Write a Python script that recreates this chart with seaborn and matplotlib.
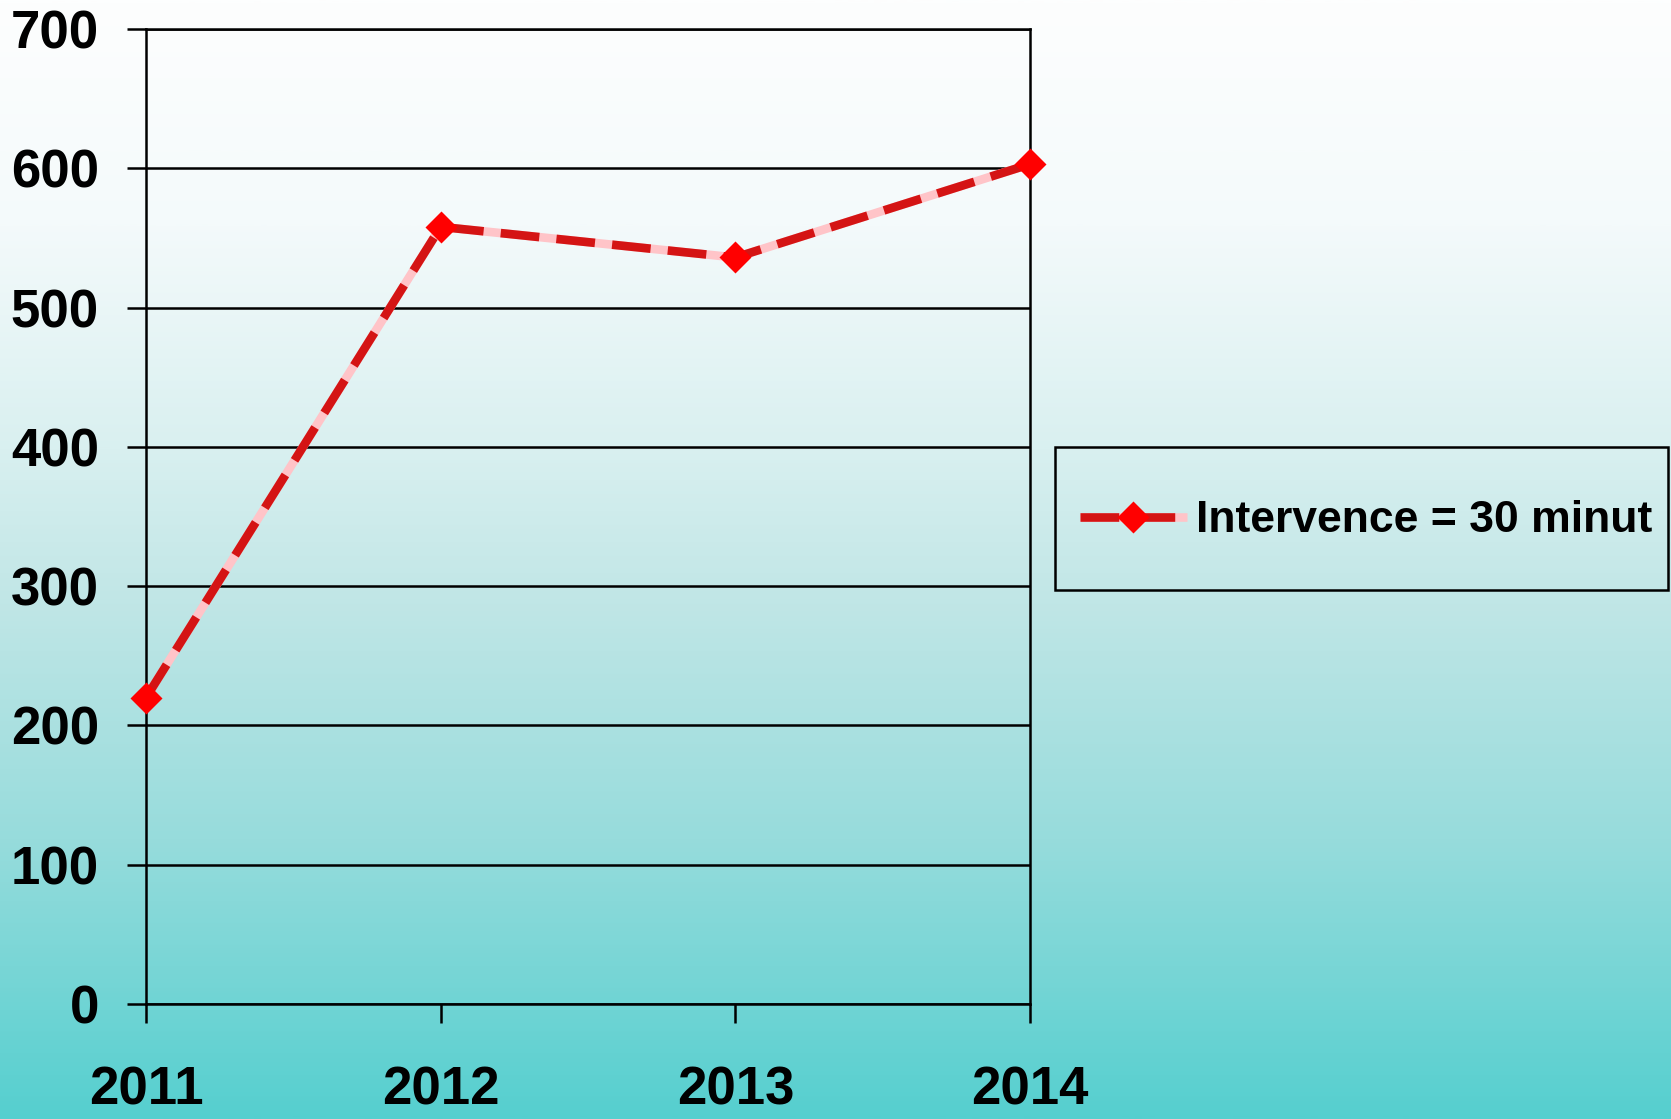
import matplotlib
matplotlib.use('Agg')
import matplotlib.pyplot as plt
import numpy as np
import pandas as pd
import seaborn as sns
from matplotlib.colors import LinearSegmentedColormap
from matplotlib.lines import Line2D
from matplotlib.patches import Rectangle

# Data
years = [2011, 2012, 2013, 2014]
values = [220, 558, 536, 603]
series_label = 'Intervence = 30 minut'
y_ticks = [0, 100, 200, 300, 400, 500, 600, 700]

df = pd.DataFrame({'year': years, 'value': values})

sns.set_theme(style='white')
plt.rcParams['font.family'] = ['Liberation Sans', 'DejaVu Sans']
plt.rcParams['font.weight'] = 'bold'

W, H = 1671, 1119
fig = plt.figure(figsize=(W / 100, H / 100), dpi=100)

# Gradient background (white at top -> teal at bottom)
bg = fig.add_axes([0, 0, 1, 1], zorder=-10)
grad_cmap = LinearSegmentedColormap.from_list(
    'bg', [(0.0, '#fdfefe'), (0.2, '#f4fafb'), (0.4, '#d9f0f0'),
           (0.54, '#c0e6e6'), (0.75, '#97dcdc'), (1.0, '#55cfcf')])
bg.imshow(np.linspace(0, 1, 512).reshape(-1, 1), aspect='auto', cmap=grad_cmap,
          extent=[0, 1, 0, 1], origin='upper')
bg.axis('off')

ax = fig.add_axes([0.0874, 0.1028, 0.5290, 0.8712])
ax.patch.set_alpha(0)

LW = 6.2
DASH = [4.5, 2.0]
# pink base line + dark red dashed overlay with diamond markers
sns.lineplot(data=df, x='year', y='value', ax=ax, color='#ffc4c8', lw=LW, zorder=3)
sns.lineplot(data=df, x='year', y='value', ax=ax, color='#d41414', lw=LW,
             marker='D', markersize=16, markerfacecolor='#ff0000',
             markeredgecolor='none', zorder=4)
ax.lines[-1].set_dashes(DASH)
for ln in ax.lines:
    ln.set_clip_on(False)
    ln.set_dash_capstyle('butt')
    ln.set_solid_capstyle('butt')

ax.set_xlim(2011, 2014)
ax.set_ylim(0, 700)
ax.set_yticks(y_ticks)
ax.set_xticks(years)
ax.set_xticklabels([str(y) for y in years])
ax.set_xlabel('')
ax.set_ylabel('')
ax.yaxis.grid(True, color='black', lw=1.8)
ax.xaxis.grid(False)
ax.set_axisbelow(True)
for side in ['left', 'right', 'top', 'bottom']:
    ax.spines[side].set_visible(True)
    ax.spines[side].set_color('black')
    ax.spines[side].set_linewidth(1.8)
ax.tick_params(axis='both', direction='out', length=14, width=1.8, color='black',
               labelsize=38, labelcolor='black', left=True, bottom=True)
ax.tick_params(axis='y', pad=20)
ax.tick_params(axis='x', pad=30)
for lab in ax.get_xticklabels() + ax.get_yticklabels():
    lab.set_fontweight('bold')

# legend box (frame drawn separately so it can run to the right edge)
fig.patches.append(Rectangle((1055 / W, 1 - 590 / H), (1668 - 1055) / W, 143 / H,
                             transform=fig.transFigure, fill=False,
                             edgecolor='black', lw=1.8))
h_base = Line2D([], [], color='#ffc4c8', lw=LW, solid_capstyle='butt')
h_dash = Line2D([], [], color='#d41414', lw=LW, dashes=DASH,
                marker='D', markersize=16, markerfacecolor='#ff0000',
                markeredgecolor='none', dash_capstyle='butt')
leg = fig.legend([(h_base, h_dash)], [series_label], loc='center left',
                 bbox_to_anchor=(1080 / W, 1 - 521 / H), fontsize=32,
                 frameon=False, borderpad=0, handlelength=2.4,
                 handletextpad=0.22, borderaxespad=0)
for t in leg.get_texts():
    t.set_fontweight('bold')
    t.set_color('black')

fig.savefig('out.png', dpi=100)
